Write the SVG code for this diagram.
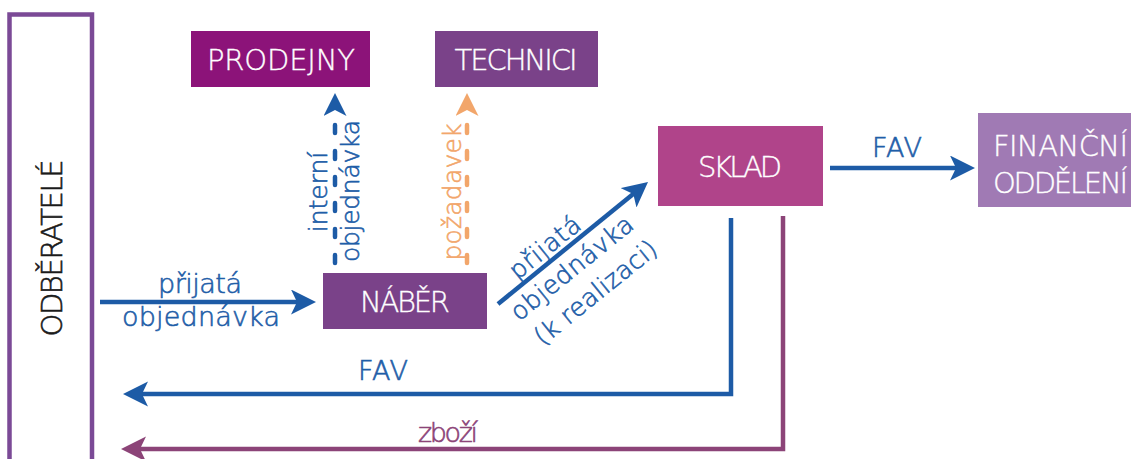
<svg xmlns="http://www.w3.org/2000/svg" width="1131" height="459" viewBox="0 0 1131 459">
  <defs>
    <style>
      text { font-family: "DejaVu Sans", "Liberation Sans", sans-serif; font-weight: 200; stroke-width: 0.6; }
      .box-label { fill: #ffffff; stroke: #ffffff; stroke-width: 0.35; font-size: 29px; text-anchor: middle; }
      .blue-label { fill: #1f5ea8; stroke: #1f5ea8; font-size: 27px; text-anchor: middle; }
      .side-label { font-size: 25px; text-anchor: middle; }
      .side-blue { fill: #1f5ea8; stroke: #1f5ea8; }
      .side-orange { fill: #f2a66b; stroke: #f2a66b; }
      .flow { fill: none; stroke-width: 4.5; stroke-linejoin: miter; }
      .blue { stroke: #1d5ba6; }
      .plum { stroke: #8c4478; }
      .dash-blue { stroke: #1d5ba6; stroke-dasharray: 8 18; stroke-linecap: round; }
      .dash-orange { stroke: #f2a66b; stroke-dasharray: 8 18; stroke-linecap: round; }
    </style>
    <marker id="head-blue" markerUnits="userSpaceOnUse" markerWidth="26" markerHeight="26" refX="17" refY="12.5" orient="auto">
      <path d="M0,0 L25,12.5 L0,25 L6,12.5 z" fill="#1d5ba6"/>
    </marker>
    <marker id="head-plum" markerUnits="userSpaceOnUse" markerWidth="26" markerHeight="26" refX="17" refY="12.5" orient="auto">
      <path d="M0,0 L25,12.5 L0,25 L6,12.5 z" fill="#8c4478"/>
    </marker>
    <marker id="head-blue-sm" markerUnits="userSpaceOnUse" markerWidth="24" markerHeight="24" refX="6" refY="11.5" orient="auto">
      <path d="M0,0 L23,11.5 L0,23 L6,11.5 z" fill="#1d5ba6"/>
    </marker>
    <marker id="head-orange-sm" markerUnits="userSpaceOnUse" markerWidth="24" markerHeight="24" refX="6" refY="11.5" orient="auto">
      <path d="M0,0 L23,11.5 L0,23 L6,11.5 z" fill="#f2a66b"/>
    </marker>
  </defs>

  <rect width="1131" height="459" fill="#ffffff"/>

  <!-- customers column -->
  <g id="odberatele">
    <path d="M9.5,459 V14.5 H92 V459" fill="none" stroke="#7b4a96" stroke-width="4.5"/>
    <text transform="translate(62,248) rotate(-90)" x="0" y="0" font-size="29" fill="#1a1a1a" stroke="#1a1a1a" stroke-width="0.35" text-anchor="middle" textLength="177" lengthAdjust="spacing">ODBĚRATELÉ</text>
  </g>

  <g id="prodejny">
    <rect x="191" y="31" width="179" height="56" fill="#8c1379"/>
    <text class="box-label" x="281" y="70" textLength="148" lengthAdjust="spacing">PRODEJNY</text>
  </g>

  <g id="technici">
    <rect x="435" y="31" width="163" height="56" fill="#7a4289"/>
    <text class="box-label" x="516" y="70" textLength="123" lengthAdjust="spacing">TECHNICI</text>
  </g>

  <g id="naber">
    <rect x="323" y="273" width="164" height="56" fill="#7a4289"/>
    <text class="box-label" x="405" y="312" textLength="90" lengthAdjust="spacing">NÁBĚR</text>
  </g>

  <g id="sklad">
    <rect x="658" y="126" width="165" height="80" fill="#b0448a"/>
    <text class="box-label" x="740" y="177" textLength="84" lengthAdjust="spacing">SKLAD</text>
  </g>

  <g id="financni-oddeleni">
    <rect x="978" y="113" width="153" height="94" fill="#a07ab4"/>
    <text class="box-label" x="993" y="156" text-anchor="start" textLength="135" lengthAdjust="spacing" style="text-anchor:start">FINANČNÍ</text>
    <text class="box-label" x="993" y="193" textLength="135" lengthAdjust="spacing" style="text-anchor:start">ODDĚLENÍ</text>
  </g>

  <!-- connectors -->
  <g id="connectors">
    <!-- incoming order -->
    <line class="flow blue" x1="100" y1="302" x2="308" y2="302" marker-end="url(#head-blue)"/>
    <text class="blue-label" x="200" y="293" textLength="84" lengthAdjust="spacing">přijatá</text>
    <text class="blue-label" x="201" y="326" textLength="158" lengthAdjust="spacing">objednávka</text>

    <!-- internal order to shops -->
    <line class="flow dash-blue" x1="335" y1="263" x2="335" y2="110" marker-end="url(#head-blue-sm)"/>
    <text class="side-label side-blue" transform="translate(327,192) rotate(-90)">interní</text>
    <text class="side-label side-blue" transform="translate(359,191) rotate(-90)" textLength="142" lengthAdjust="spacing">objednávka</text>

    <!-- request to technicians -->
    <line class="flow dash-orange" x1="467" y1="263" x2="467" y2="110" marker-end="url(#head-orange-sm)"/>
    <text class="side-label side-orange" transform="translate(461,192) rotate(-90)" textLength="137" lengthAdjust="spacing">požadavek</text>

    <!-- order for fulfilment -->
    <line class="flow blue" x1="498" y1="304" x2="641.8" y2="187" marker-end="url(#head-blue)"/>
    <g transform="translate(498,304) rotate(-39)">
      <text class="side-label side-blue" x="72" y="-6" textLength="84" lengthAdjust="spacing">přijatá</text>
      <text class="side-label side-blue" x="80" y="27" textLength="150" lengthAdjust="spacing">objednávka</text>
      <text class="side-label side-blue" x="83" y="61" textLength="150" lengthAdjust="spacing">(k realizaci)</text>
    </g>

    <!-- invoice to finance -->
    <line class="flow blue" x1="830" y1="168" x2="967" y2="168" marker-end="url(#head-blue)"/>
    <text class="blue-label" x="897" y="157" textLength="50" lengthAdjust="spacing">FAV</text>

    <!-- invoice back to customers -->
    <path class="flow blue" d="M731,218 V394 H131" marker-end="url(#head-blue)"/>
    <text class="blue-label" x="383" y="380" textLength="50" lengthAdjust="spacing">FAV</text>

    <!-- goods back to customers -->
    <path class="flow plum" d="M783,216 V449 H129" marker-end="url(#head-plum)"/>
    <text x="448" y="442" font-size="27" fill="#8c4478" stroke="#8c4478" text-anchor="middle" textLength="60" lengthAdjust="spacing">zboží</text>
  </g>
</svg>
